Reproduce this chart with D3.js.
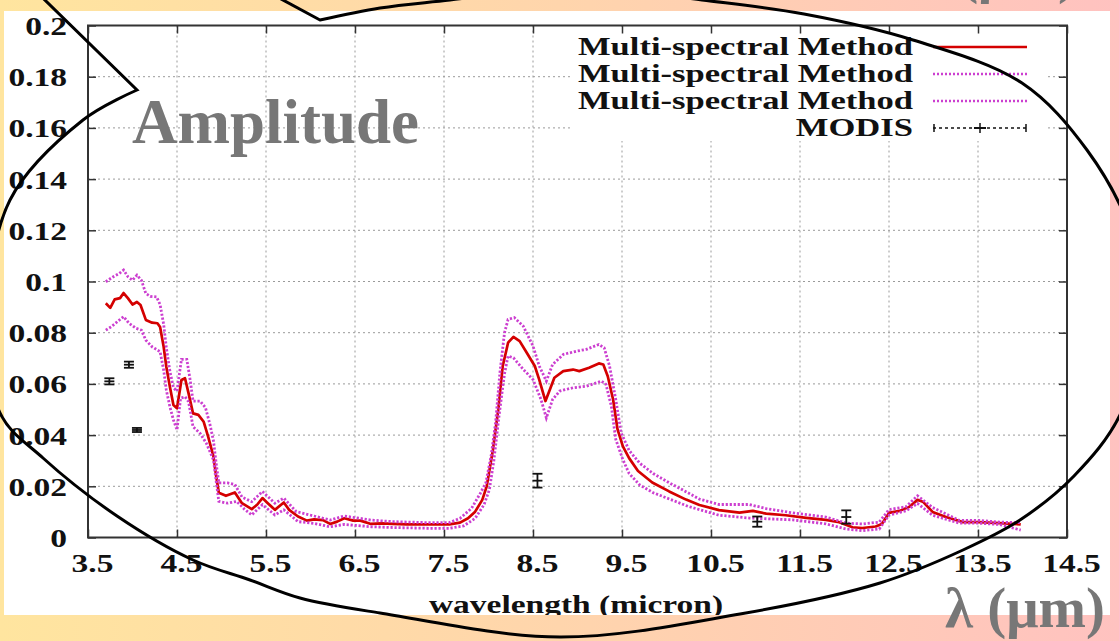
<!DOCTYPE html>
<html><head><meta charset="utf-8">
<script src="https://cdn.jsdelivr.net/npm/d3@7"></script>
<style>html,body{margin:0;padding:0;overflow:hidden;background:#fff}</style>
</head><body>
<svg id="chart" width="1119" height="641"></svg>
<script>
// ---------- DATA ----------
const xTickValues = [3.5,4.5,5.5,6.5,7.5,8.5,9.5,10.5,11.5,12.5,13.5,14.5];
const yTickValues = [0,0.02,0.04,0.06,0.08,0.1,0.12,0.14,0.16,0.18,0.2];
const yTickLabels = ["0","0.02","0.04","0.06","0.08","0.1","0.12","0.14","0.16","0.18","0.2"];
const legendLabels = ["Multi-spectral Method","Multi-spectral Method","Multi-spectral Method","MODIS"];
const xLabel = "wavelength (micron)";
const overlayY = "Amplitude";
const overlayX = "λ (μm)";

// central estimate [wavelength, amplitude]
const methodMain = [[3.70,.0915],[3.75,.0897],[3.80,.093],[3.86,.0935],[3.90,.0955],[3.95,.0934],[4.00,.091],[4.05,.092],[4.09,.0908],[4.15,.085],[4.22,.0839],[4.28,.0837],[4.31,.0822],[4.35,.0745],[4.38,.0667],[4.42,.0589],[4.46,.0518],[4.50,.0505],[4.55,.0615],[4.59,.0622],[4.63,.0563],[4.68,.0485],[4.74,.0479],[4.80,.0452],[4.85,.0394],[4.91,.0316],[4.94,.024],[4.97,.0175],[5.05,.0163],[5.15,.0176],[5.23,.0134],[5.34,.0111],[5.40,.0128],[5.46,.0154],[5.52,.0134],[5.60,.0108],[5.70,.0137],[5.76,.0108],[5.86,.0082],[5.96,.0066],[6.04,.0071],[6.14,.0068],[6.22,.0053],[6.30,.0062],[6.38,.0075],[6.48,.0066],[6.56,.0066],[6.68,.0053],[6.80,.0055],[6.92,.0053],[7.08,.0051],[7.24,.0051],[7.40,.0051],[7.56,.0051],[7.68,.0058],[7.77,.0075],[7.85,.0101],[7.93,.0147],[7.98,.02],[8.05,.0343],[8.11,.05],[8.16,.067],[8.22,.0761],[8.28,.0784],[8.35,.0767],[8.43,.0722],[8.52,.067],[8.57,.0617],[8.64,.0533],[8.69,.0578],[8.74,.0624],[8.84,.065],[8.95,.0656],[9.02,.065],[9.13,.0663],[9.24,.068],[9.29,.0676],[9.34,.063],[9.40,.0539],[9.45,.0422],[9.51,.0356],[9.58,.031],[9.68,.026],[9.84,.0215],[10.03,.018],[10.22,.0148],[10.37,.0127],[10.59,.0107],[10.82,.0097],[10.97,.0104],[11.12,.0093],[11.34,.0087],[11.57,.0077],[11.79,.0069],[11.94,.006],[12.09,.004],[12.20,.0037],[12.35,.0043],[12.42,.0053],[12.50,.0096],[12.62,.0104],[12.73,.012],[12.82,.0147],[12.88,.014],[12.99,.01],[13.14,.008],[13.33,.006],[13.51,.006],[13.74,.0056],[13.89,.0053],[13.98,.0051]];

const methodUpper = [[3.70,.0999],[3.78,.1018],[3.85,.1031],[3.90,.1045],[3.95,.1018],[4.00,.1005],[4.05,.1025],[4.10,.1005],[4.15,.0953],[4.20,.0942],[4.27,.094],[4.31,.091],[4.35,.0833],[4.38,.0742],[4.42,.065],[4.46,.0585],[4.50,.0572],[4.55,.0696],[4.61,.0696],[4.65,.0611],[4.68,.0533],[4.76,.0533],[4.82,.0507],[4.87,.0442],[4.91,.0377],[4.94,.029],[4.97,.0213],[5.07,.0213],[5.15,.0207],[5.23,.0158],[5.34,.014],[5.46,.018],[5.60,.0134],[5.70,.0154],[5.84,.0101],[6.04,.0084],[6.22,.0068],[6.38,.0084],[6.68,.0068],[6.92,.0062],[7.32,.0058],[7.56,.0058],[7.68,.0075],[7.81,.0114],[7.91,.0174],[7.97,.0213],[8.03,.032],[8.08,.045],[8.13,.065],[8.18,.08],[8.22,.0852],[8.29,.0859],[8.39,.0826],[8.50,.0748],[8.57,.067],[8.65,.0611],[8.72,.0676],[8.84,.0715],[8.99,.0728],[9.10,.0735],[9.24,.0754],[9.30,.0741],[9.36,.067],[9.43,.0539],[9.49,.0409],[9.58,.034],[9.70,.029],[9.85,.025],[10.05,.021],[10.24,.0175],[10.37,.015],[10.59,.0129],[10.93,.0129],[11.12,.0113],[11.42,.0096],[11.79,.008],[12.02,.0056],[12.20,.0053],[12.39,.006],[12.50,.0109],[12.69,.012],[12.82,.0163],[12.99,.0117],[13.29,.0067],[13.51,.0067],[13.74,.006],[13.98,.0058]];

const methodLower = [[3.70,.081],[3.76,.0823],[3.83,.0843],[3.90,.0863],[3.96,.0837],[4.04,.0817],[4.10,.081],[4.15,.0771],[4.22,.0745],[4.31,.0726],[4.35,.0654],[4.38,.0576],[4.42,.0511],[4.46,.0459],[4.50,.042],[4.54,.0544],[4.59,.055],[4.63,.053],[4.68,.0433],[4.76,.0407],[4.83,.0368],[4.91,.0303],[4.94,.022],[4.97,.0141],[5.07,.0134],[5.17,.0141],[5.26,.011],[5.34,.0088],[5.46,.0128],[5.60,.0088],[5.70,.0108],[5.86,.0062],[6.04,.0055],[6.22,.0042],[6.38,.0051],[6.68,.0042],[6.92,.0039],[7.32,.0036],[7.56,.0036],[7.72,.0045],[7.85,.0075],[7.95,.0128],[8.01,.0187],[8.06,.030],[8.12,.048],[8.18,.064],[8.22,.0709],[8.28,.0702],[8.39,.0657],[8.50,.0617],[8.59,.0539],[8.65,.0467],[8.72,.0539],[8.80,.0572],[8.95,.0585],[9.10,.0591],[9.27,.0611],[9.32,.0598],[9.38,.0513],[9.43,.0383],[9.51,.0304],[9.58,.025],[9.70,.0205],[9.85,.0175],[10.05,.0148],[10.24,.0122],[10.37,.0109],[10.59,.0087],[10.93,.0076],[11.42,.0069],[11.79,.0053],[12.02,.0033],[12.20,.0027],[12.39,.0033],[12.50,.0087],[12.69,.0104],[12.82,.0133],[12.99,.0087],[13.29,.0056],[13.51,.0056],[13.74,.0051],[13.98,.0029]];

const modisWavelength = [3.74, 3.96, 4.05, 8.55, 11.02, 12.02];
const modisValue      = [0.061, 0.0675, 0.042, 0.0222, 0.0062, 0.0080];
const modisError      = [0.0012, 0.0012, 0.0008, 0.0027, 0.0020, 0.0026];

// ---------- DRAW ----------
const svg = d3.select("#chart");
const FONT = "'Liberation Serif','Times New Roman',serif";
const SX = 1.34; // horizontal stretch of the original picture text

const defs = svg.append("defs");
const grad = defs.append("linearGradient").attr("id","bg").attr("x1","0").attr("x2","1").attr("y1","0").attr("y2","0");
grad.append("stop").attr("offset","0").attr("stop-color","#FFE59F");
grad.append("stop").attr("offset","0.5").attr("stop-color","#FFD5AC");
grad.append("stop").attr("offset","1").attr("stop-color","#FFC2C0");
defs.append("clipPath").attr("id","panel").append("rect").attr("x",4).attr("y",11).attr("width",1106).attr("height",604);

svg.append("rect").attr("width",1119).attr("height",641).attr("fill","url(#bg)");
svg.append("rect").attr("x",4).attr("y",11).attr("width",1106).attr("height",604).attr("fill","#fff");

const x = d3.scaleLinear().domain([3.5,14.5]).range([88,1067]);
const y = d3.scaleLinear().domain([0,0.2]).range([537.5,25.5]);

const g = svg.append("g").attr("clip-path","url(#panel)");

// grid
const grid = g.append("g").attr("stroke","#9a9a9a").attr("stroke-width",1).attr("stroke-dasharray","2,3");
grid.selectAll("line.v").data(xTickValues.slice(1,-1)).join("line")
  .attr("x1",d=>x(d)).attr("x2",d=>x(d)).attr("y1",y(0)).attr("y2",y(0.2));
grid.selectAll("line.h").data(yTickValues.slice(1,-1)).join("line")
  .attr("y1",d=>y(d)).attr("y2",d=>y(d)).attr("x1",x(3.5)).attr("x2",x(14.5));

// legend box hides grid
g.append("rect").attr("x",572).attr("y",27).attr("width",473).attr("height",114).attr("fill","#fff");

// axes (inward ticks, mirrored)
const axB = g.append("g").attr("transform",`translate(0,${y(0)})`)
  .call(d3.axisBottom(x).tickValues(xTickValues).tickSize(-8).tickFormat(d3.format(".1f")));
const axT = g.append("g").attr("transform",`translate(0,${y(0.2)})`)
  .call(d3.axisTop(x).tickValues(xTickValues).tickSize(-8).tickFormat(""));
const axL = g.append("g").attr("transform",`translate(${x(3.5)},0)`)
  .call(d3.axisLeft(y).tickValues(yTickValues).tickSize(-8).tickFormat((d,i)=>yTickLabels[i]));
const axR = g.append("g").attr("transform",`translate(${x(14.5)},0)`)
  .call(d3.axisRight(y).tickValues(yTickValues).tickSize(-8).tickFormat(""));
[axB,axT,axL,axR].forEach(a=>{
  a.select(".domain").remove();
  a.selectAll(".tick line").attr("stroke","#333").attr("stroke-width",1.5);
});
axB.selectAll("text")
  .attr("font-family",FONT).attr("font-weight","bold").attr("font-size",25).attr("fill","#111")
  .attr("x",4/SX).attr("y",572-537.5).attr("dy",null)
  .attr("transform",`scale(${SX},1)`);
axL.selectAll("text")
  .attr("font-family",FONT).attr("font-weight","bold").attr("font-size",25).attr("fill","#111")
  .attr("x",-21/SX).attr("dy","0.36em")
  .attr("transform",`scale(${SX},1)`);

// frame
g.append("rect").attr("x",x(3.5)).attr("y",y(0.2)).attr("width",x(14.5)-x(3.5)).attr("height",y(0)-y(0.2))
  .attr("fill","none").attr("stroke","#333").attr("stroke-width",2);

// x axis label
g.append("text").attr("transform",`translate(576,613) scale(${SX},1)`)
  .attr("text-anchor","middle").attr("font-family",FONT).attr("font-weight","bold").attr("font-size",25).attr("fill","#111")
  .text(xLabel);

// series
const line = d3.line().x(d=>x(d[0])).y(d=>y(d[1]));
const RED = "#d40000", MAG = "#cc3fd0";
g.append("path").datum(methodMain).attr("d",line).attr("fill","none").attr("stroke",RED).attr("stroke-width",2.7).attr("stroke-linejoin","round");
g.append("path").datum(methodUpper).attr("d",line).attr("fill","none").attr("stroke",MAG).attr("stroke-width",2.8).attr("stroke-dasharray","2.2,1.8");
g.append("path").datum(methodLower).attr("d",line).attr("fill","none").attr("stroke",MAG).attr("stroke-width",2.8).attr("stroke-dasharray","2.2,1.8");

// MODIS error bars
const modis = modisWavelength.map((w,i)=>({w, v:modisValue[i], e:modisError[i]}));
const mg = g.append("g").attr("stroke","#111").attr("stroke-width",1.8);
modis.forEach(d=>{
  const cx = x(d.w), cy = y(d.v), y1 = y(d.v+d.e), y2 = y(d.v-d.e);
  mg.append("line").attr("x1",cx).attr("x2",cx).attr("y1",y1).attr("y2",y2);
  mg.append("line").attr("x1",cx-5).attr("x2",cx+5).attr("y1",y1).attr("y2",y1);
  mg.append("line").attr("x1",cx-5).attr("x2",cx+5).attr("y1",y2).attr("y2",y2);
  mg.append("line").attr("x1",cx-5).attr("x2",cx+5).attr("y1",cy).attr("y2",cy);
});

// legend
const legY = [47,74,101,128];
legendLabels.forEach((t,i)=>{
  g.append("text").attr("transform",`translate(913,${legY[i]+8}) scale(${SX},1)`)
    .attr("text-anchor","end").attr("font-family",FONT).attr("font-weight","bold").attr("font-size",25.8).attr("fill","#111")
    .text(t);
});
g.append("line").attr("x1",933).attr("x2",1027).attr("y1",legY[0]).attr("y2",legY[0]).attr("stroke",RED).attr("stroke-width",2.5);
[1,2].forEach(i=>g.append("line").attr("x1",933).attr("x2",1027).attr("y1",legY[i]).attr("y2",legY[i])
  .attr("stroke",MAG).attr("stroke-width",2.5).attr("stroke-dasharray","2,2"));
const ly = legY[3];
const lm = g.append("g").attr("stroke","#111").attr("stroke-width",1.5);
lm.append("line").attr("x1",933).attr("x2",1027).attr("y1",ly).attr("y2",ly).attr("stroke-dasharray","3,3");
lm.append("line").attr("x1",934).attr("x2",934).attr("y1",ly-4).attr("y2",ly+4);
lm.append("line").attr("x1",1026).attr("x2",1026).attr("y1",ly-4).attr("y2",ly+4);
lm.append("line").attr("x1",980).attr("x2",980).attr("y1",ly-5).attr("y2",ly+5);
lm.append("line").attr("x1",974).attr("x2",986).attr("y1",ly).attr("y2",ly).attr("stroke-dasharray",null).attr("stroke-width",2);

// overlay annotations
svg.append("text").attr("x",132).attr("y",143).attr("font-family",FONT).attr("font-weight","bold")
  .attr("font-size",63).attr("fill","#777").text(overlayY);
svg.append("text").attr("x",945).attr("y",627).attr("font-family",FONT).attr("font-weight","bold")
  .attr("font-size",57).attr("fill","#777").text(overlayX);
svg.append("text").attr("x",917).attr("y",-8).attr("font-family",FONT).attr("font-weight","bold")
  .attr("font-size",57).attr("fill","#777").text(overlayX);

// callout bubble outline
const bubblePts = [[320,20],[380,8],[450,0],[576,-14],[702,0],[804,14],[913,40],[1022,83],[1087,150],[1130,230],[1145,320],[1120,415],[1074,476],[1020,520],[963,550],[880,583],[740,614],[560,637],[380,613],[300,598],[250,580],[193,560],[117,516],[43,458],[0,413],[-12,310],[10,200],[83,120],[137,90]];
const bubble = d3.line().curve(d3.curveCatmullRom.alpha(0.5))(bubblePts) + "L-249,-287Z";
svg.append("path").attr("d",bubble).attr("fill","none").attr("stroke","#000").attr("stroke-width",3).attr("stroke-linejoin","miter");
</script>
</body></html>
